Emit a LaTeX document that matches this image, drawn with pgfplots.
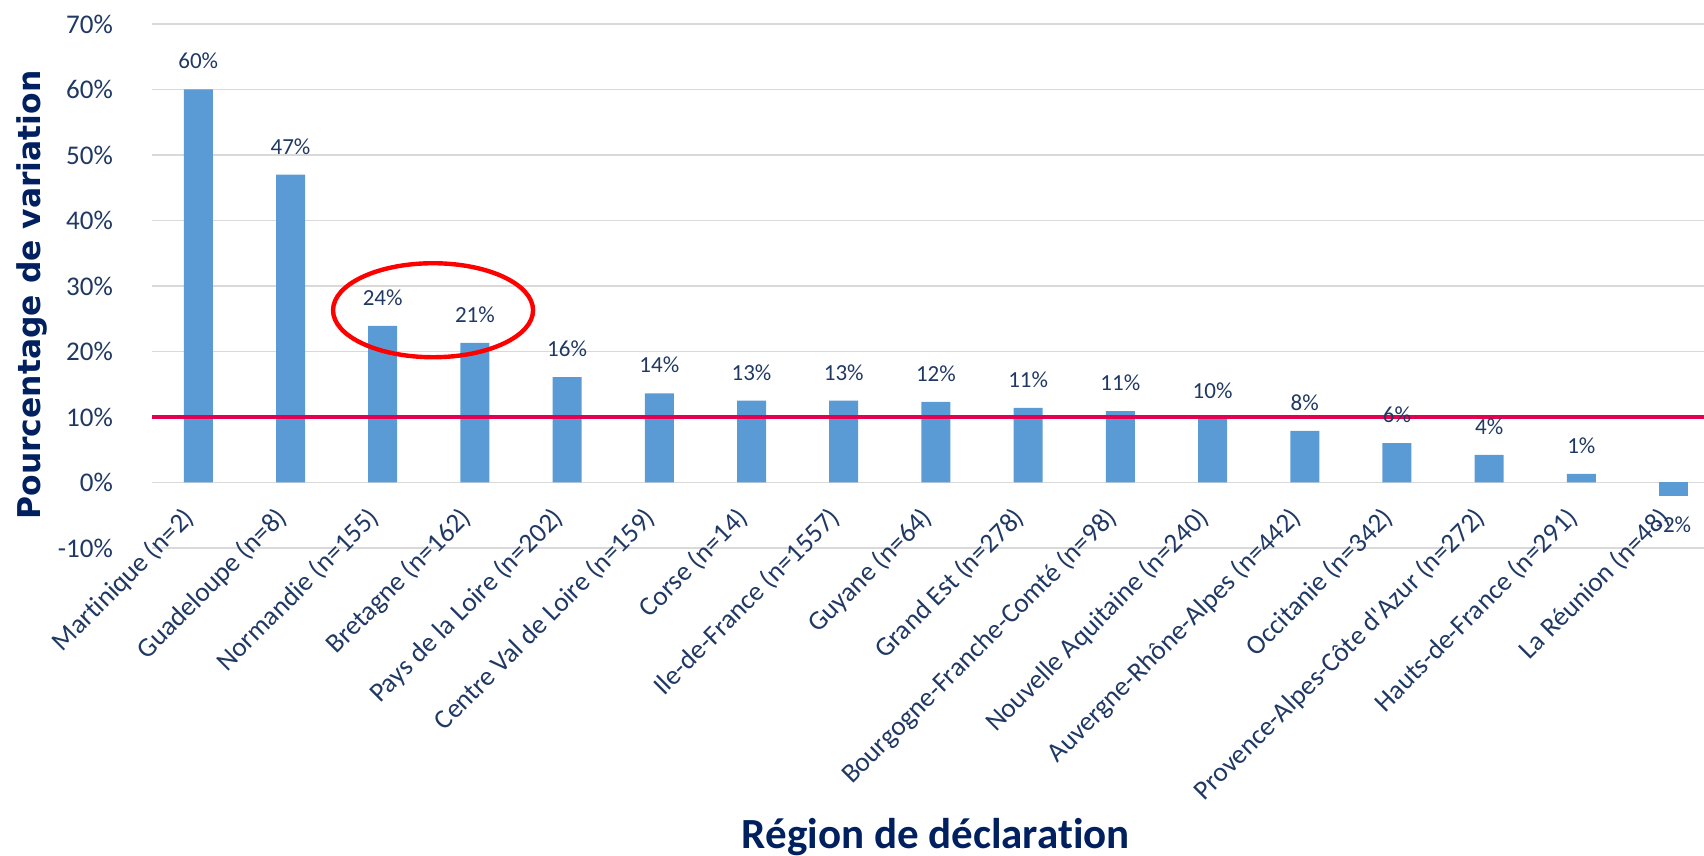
\documentclass[border=0pt]{standalone}
\usepackage{fontspec}
\setmainfont{Carlito}[Ligatures=NoCommon]
\newfontfamily\dejavu{DejaVu Sans}
\usepackage{pgfplots}
\pgfplotsset{compat=1.18}
\usetikzlibrary{calc}
\definecolor{barblue}{HTML}{5B9BD5}
\definecolor{navy}{RGB}{0,32,96}
\definecolor{ticknavy}{RGB}{31,56,100}
\definecolor{gridgray}{HTML}{D9D9D9}
\definecolor{seuil}{RGB}{228,0,80}

\begin{document}
\begin{tikzpicture}
\begin{axis}[
  scale only axis,
  width=775.9pt, height=262pt,
  xmin=-0.5, xmax=16.33, ymin=-10, ymax=70,
  ybar, bar width=14.5pt, bar shift=0pt,
  axis line style={draw=none},
  major tick length=0pt,
  ytick={-10,0,10,20,30,40,50,60,70},
  yticklabels={-10\%,0\%,10\%,20\%,30\%,40\%,50\%,60\%,70\%},
  yticklabel style={font=\fontsize{13.5}{15}\selectfont, text=ticknavy, anchor=east, inner sep=0pt, xshift=-19.5pt},
  ymajorgrids, grid style={gridgray, line width=0.8pt},
  xtick={0,...,16},
  xticklabels={Martinique (n=2), Guadeloupe (n=8), Normandie (n=155), Bretagne (n=162),
    Pays de la Loire (n=202), Centre Val de Loire (n=159), Corse (n=14), Ile-de-France (n=1557),
    Guyane (n=64), Grand Est (n=278), Bourgogne-Franche-Comté (n=98), Nouvelle Aquitaine (n=240),
    Auvergne-Rhône-Alpes (n=442), Occitanie (n=342), Provence-Alpes-Côte d\textquotesingle Azur (n=272),
    Hauts-de-France (n=291), La Réunion (n=48)},
  xticklabel style={font=\fontsize{13.6}{15}\selectfont, text=ticknavy, rotate=45, anchor=north east,
    inner sep=0pt, xshift=9.5pt, yshift=21.2pt},
  xlabel={Région de déclaration},
  xlabel style={font=\fontsize{21.5}{24}\selectfont\bfseries, text=navy, at={(axis description cs:0.505,-0.5515)}, anchor=center},
  ylabel={Pourcentage de variation},
  ylabel style={font=\fontsize{15.7}{18}\selectfont\dejavu\bfseries, text=navy, at={(axis description cs:-0.0776,0.483)}, anchor=center},
  point meta=explicit symbolic,
  nodes near coords,
  nodes near coords style={font=\fontsize{11.5}{13}\selectfont, text=ticknavy, inner ysep=10pt},
  clip=false,
]
\addplot[fill=barblue, draw=none] coordinates {
  (0,60.0) [60\%]
  (1,47.0) [47\%]
  (2,23.9) [24\%]
  (3,21.3) [21\%]
  (4,16.1) [16\%]
  (5,13.6) [14\%]
  (6,12.5) [13\%]
  (7,12.5) [13\%]
  (8,12.3) [12\%]
  (9,11.4) [11\%]
  (10,10.9) [11\%]
  (11,9.7) [10\%]
  (12,7.9) [8\%]
  (13,6.0) [6\%]
  (14,4.2) [4\%]
  (15,1.3) [1\%]
};
% valeur negative : etiquette sous la barre
\addplot[fill=barblue, draw=none, every node near coord/.append style={anchor=north}] coordinates {
  (16,-2.1) [-2\%]
};
% seuil a 10 %
\addplot[sharp plot, seuil, line width=1.6pt, nodes near coords={}, forget plot] coordinates {(-0.5,10) (16.33,10)};
\draw[red, line width=2.2pt] (axis cs:2.546,26.3) ellipse [x radius=50pt, y radius=23.5pt];
\coordinate (bl) at (rel axis cs:0,0);
\end{axis}
\pgfresetboundingbox
\path ($(bl)+(-76.1pt,-154pt)$) rectangle ($(bl)+(775.9pt,274pt)$);
\end{tikzpicture}
\end{document}
